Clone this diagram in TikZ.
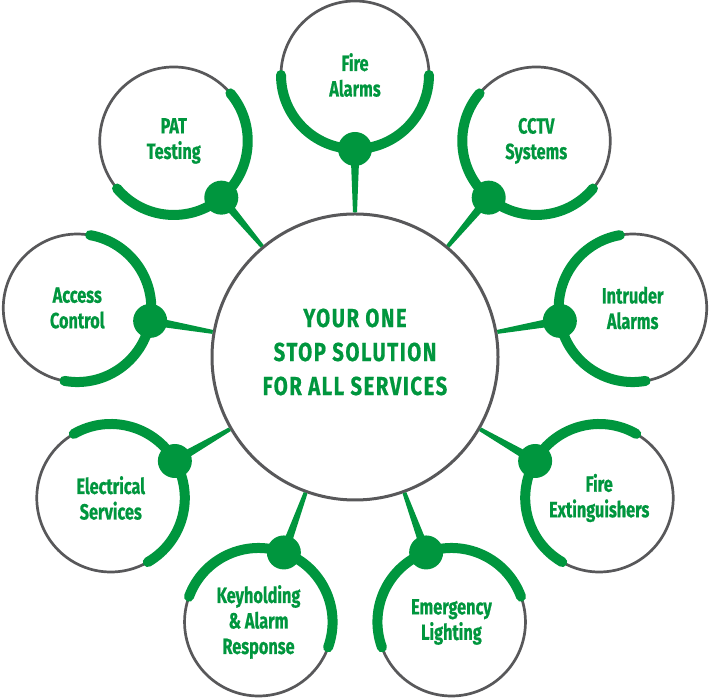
\documentclass[tikz,border=0pt]{standalone}
\usepackage{fontspec}
\setmainfont{Fira Sans}[FakeStretch=0.74, FakeBold=0.6]
\newfontfamily\titlefont{Fira Sans}[FakeStretch=0.78, LetterSpace=6, FakeBold=0.6]
\usetikzlibrary{calc}
\definecolor{brand}{RGB}{0,150,62}
\definecolor{ring}{RGB}{88,88,90}
\begin{document}
\begin{tikzpicture}[x=1pt,y=1pt,
  ringc/.style={circle, draw=ring, line width=2.7pt, fill=white, minimum size=148pt, inner sep=0pt,
    text=brand, font=\bfseries\fontsize{22}{25.5}\selectfont, align=center},
  hub/.style={circle, draw=ring, line width=3pt, fill=white, minimum size=286pt, inner sep=0pt},
  arcline/.style={draw=brand, line width=10pt, line cap=round},
  joint/.style={circle, fill=brand, minimum size=34pt, inner sep=0pt},
  titletext/.style={text=brand, font=\titlefont\bfseries\fontsize{26}{34}\selectfont, align=center},
]
\useasboundingbox (0,0) rectangle (709,700);
\node[hub] (hub) at (355,343) {};
\node[titletext] (title) at ($(hub.center)+(0,5)$) {YOUR ONE\\STOP SOLUTION\\FOR ALL SERVICES};
\foreach \a/\i/\t in {90/1/{Fire\\Alarms}, 50/2/{CCTV\\Systems}, 10/3/{Intruder\\Alarms},
  -30/4/{Fire\\Extinguishers}, -70/5/{Emergency\\Lighting}, -110/6/{Keyholding\\\& Alarm\\Response},
  -150/7/{Electrical\\Services}, 170/8/{Access\\Control}, 130/9/{PAT\\Testing}} {
  \pgfmathsetmacro{\s}{\a+90}
  \pgfmathsetmacro{\e}{\a+270}
  \node[ringc] (o\i) at ($(hub.center)+(\a:282)$) {\t};
  \draw[arcline] ($(o\i.center)+(\s:74)$) arc[start angle=\s, end angle=\e, radius=74];
  \node[joint] (d\i) at ($(hub.center)+(\a:208)$) {};
  \fill[brand] ($(d\i.center)!4.5pt!90:(hub.center)$) -- ($(d\i.center)!4.5pt!-90:(hub.center)$)
     -- ($(hub.\a)!2pt!90:(d\i.center)$) -- ($(hub.\a)!2pt!-90:(d\i.center)$) -- cycle;
}
\end{tikzpicture}
\end{document}
